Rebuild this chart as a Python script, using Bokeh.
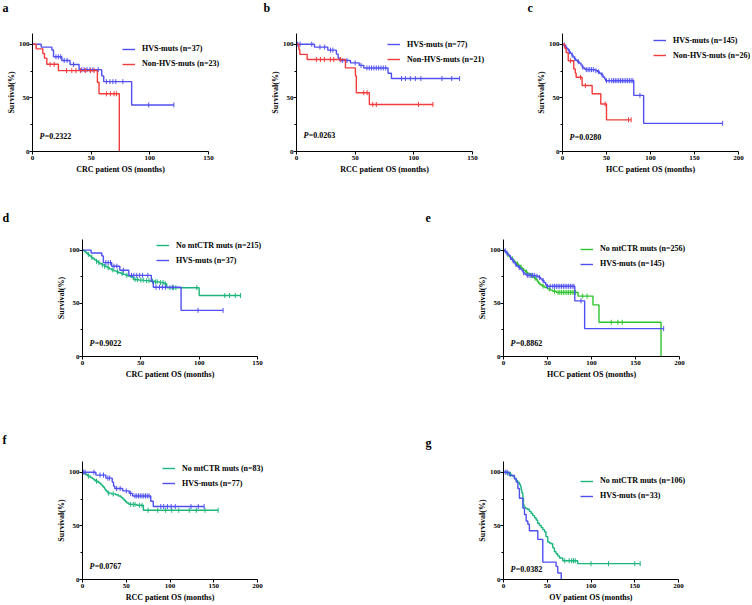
import numpy as np
from bokeh.plotting import figure
from bokeh.models import Range1d, FixedTicker, Legend, LegendItem, Label, Title
from bokeh.core.properties import value
from bokeh.layouts import row, column
from bokeh.embed import file_html
from bokeh.resources import INLINE

FONT = "Liberation Serif"
BLUE = "#5050F2"
RED = "#F23C3C"
GREEN = "#1CB57B"
GREEN_E = "#2EC42E"

# ---------------- data (months, survival %) ----------------
# CRC
crc_hvs_t = [0, 7.4, 16.5, 17.9, 25, 32, 39.7, 59, 60.7, 84.5, 120.5]
crc_hvs_s = [100, 97.3, 94.6, 88.3, 84.9, 81.1, 76.3, 70.5, 65.1, 43.4, 43.4]
crc_hvs_c = [20, 22, 24, 27, 29.5, 35, 42, 44, 46.5, 49, 51.5, 56, 63, 66, 68.5, 71, 77, 99, 120.5]

crc_non_t = [0, 3.1, 8.8, 10.2, 12.2, 22.1, 55.3, 56.7, 74]
crc_non_s = [100, 95.7, 91.3, 87, 81.3, 75.4, 64.6, 53.8, 0]
crc_non_c = [15, 18.5, 29, 33.5, 37, 41, 45, 49.5, 52.5, 63, 66.5, 69.5, 71.5]

crc_no_t = [0, 1.5, 3, 4.5, 6, 7.5, 9, 10.5, 12, 13.5, 15, 17, 19, 21, 23, 25, 27, 29, 31, 33,
            35, 37, 39, 41, 43.6, 48, 53, 58, 62, 66, 70, 72.2, 100, 135.5]
crc_no_s = [100, 98.7, 97.3, 96, 94.6, 93.2, 91.9, 90.6, 89.5, 88.3, 87.2, 86, 84.8, 83.6, 82.4,
            81.4, 80.5, 79.6, 78.8, 78, 77.2, 76.4, 75.6, 75, 72.4, 71.8, 71.3, 70.8, 70.2, 69.5,
            68.5, 64.7, 57.3, 57.3]
crc_no_c = [5, 8, 12, 14, 17, 19, 22, 26, 30, 34, 38, 45, 47, 50, 52, 55, 57, 60, 62.5, 64, 67,
            69, 71, 75, 78, 80, 98, 122, 126, 131, 135.5]

# RCC
rcc_hvs_t = [0, 15.3, 26.7, 34, 35.5, 36.9, 46, 53.4, 57.3, 78, 80.9, 139]
rcc_hvs_s = [100, 97.3, 94.5, 90.8, 87, 84.8, 82.6, 80.3, 77.9, 73, 68, 68]
rcc_hvs_c = [1, 3, 13, 20, 24, 29, 31, 39, 43, 50, 55, 60, 62, 64, 66, 68, 70, 72, 74, 76,
             89.5, 92.8, 97, 101.3, 106, 124, 132.3, 139]

rcc_non_t = [0, 2, 2.8, 9.1, 41.7, 50.2, 51, 62.1, 116.3]
rcc_non_s = [100, 95.2, 90.5, 85.7, 78, 70.5, 54.8, 43.8, 43.8]
rcc_non_c = [17, 20.4, 23.8, 28.9, 31.8, 37.4, 57.3, 60.2, 65, 68, 104, 116.3]

rcc_no_t = [0, 2, 4, 6, 9, 11, 13, 15, 18, 20, 21.5, 23, 24.5, 25.5, 26.5, 27.8, 29, 33, 38, 41,
            44, 46, 47.5, 49, 50.6, 53, 62, 69.6, 155]
rcc_no_s = [100, 98.8, 97.6, 96.4, 95.2, 94, 92.8, 91.6, 90.4, 89.2, 88, 86.7, 85.5, 84.2, 83,
            81.7, 80.5, 79.8, 79, 77.8, 76.5, 75.2, 73.9, 72.6, 71.3, 70, 69.2, 64.5, 64.5]
rcc_no_c = [7, 16, 30, 35, 55, 58, 60, 65, 68, 75, 86, 95, 102, 110, 122, 130, 140, 155]

# HCC
hcc_hvs_t = [0, 1, 2.5, 3.5, 5, 6.5, 7.5, 9, 10.5, 12, 13.5, 15, 17, 19, 21, 22.5, 24.5, 26, 37,
             40, 42, 44, 46, 48, 49, 81, 92.2, 182]
hcc_hvs_s = [100, 99.3, 98.6, 97.2, 95.8, 94.4, 93, 91.5, 89.8, 88.2, 86.6, 85, 83.7, 82.4, 80.5,
             78.6, 77.2, 76.3, 75.4, 74.4, 73, 71.5, 69.5, 67.5, 66, 52.3, 26.2, 26.2]
hcc_hvs_c = [2, 4, 8, 11, 14, 18, 23, 27, 29, 31, 33, 35, 38, 41, 45, 50, 53, 56, 58, 60, 62, 64,
             66, 68, 70, 72, 74, 76, 78, 80, 88, 182]

hcc_non_t = [0, 2.6, 4.2, 6.5, 12.8, 14.5, 15.5, 22.3, 33.7, 43.5, 50, 78]
hcc_non_s = [100, 96.2, 92.3, 84.6, 76.9, 73.1, 69.2, 61.5, 53.8, 44.3, 29.5, 29.5]
hcc_non_c = [9, 20.5, 26, 48.5, 75, 78]

hcc_no_t = [0, 1.5, 3, 4.5, 6, 7.5, 9, 10.5, 12, 13.5, 15, 17, 19, 21, 23, 25, 27, 29, 31, 33,
            35, 37, 38.5, 40, 41.5, 44, 47, 50, 53, 56, 60, 84.7, 101.7, 108.5, 179]
hcc_no_s = [100, 98.6, 97.2, 95.8, 94.5, 93.2, 91.9, 90.7, 89.4, 88.2, 87, 85.5, 84, 82.5, 81,
            79.6, 78.3, 77.2, 76.2, 75, 73.6, 72.2, 70.5, 68.8, 67.4, 66.2, 64.8, 63.6, 62.4,
            61.3, 60.3, 56.8, 48.5, 32.2, 0]
hcc_no_c = [5, 10, 16, 20, 26, 32, 36, 45, 52, 58, 62, 64, 66, 68, 70, 72, 74, 76, 78, 80, 82,
            90, 95, 122.5, 130, 135]

# OV
ov_no_t = [0, 4, 6.8, 9, 10.7, 12.5, 14.5, 16.3, 18.2, 19.5, 20.2, 21, 22.1, 22.8, 23.5, 25, 27,
           29.6, 31.5, 33.5, 35.5, 37.3, 39, 41, 43, 45, 46.8, 48.5, 50.6, 52.5, 54.4, 56.3,
           58.2, 60, 62, 64, 67.7, 84.8, 156.2]
ov_no_s = [100, 99, 98.1, 97.1, 96.1, 94.2, 92.3, 90.4, 88.5, 86.5, 83.6, 80.7, 75.9, 70, 67.5,
           66.5, 65.5, 63.5, 61.5, 59.5, 57.5, 55.5, 52.5, 50.5, 48.5, 46.5, 44.5, 40, 35, 34,
           33.3, 29.5, 26, 24, 22, 20, 17.5, 14.8, 14.8]
ov_no_c = [5, 8, 70, 75, 78, 80, 82, 100, 120, 150, 156.2]

ov_hvs_t = [0, 6.8, 12.5, 14.5, 16.4, 18.2, 22.1, 24, 25.9, 27.8, 29.6, 39.2, 44.9, 60.1, 62, 66]
ov_hvs_s = [100, 97, 93.9, 90.9, 84.8, 75.8, 66.7, 60.6, 54.5, 51.5, 45.5, 37.4, 16.2, 12.2, 6.1, 0]
ov_hvs_c = [2, 4]

p_values = ["=0.2322", "=0.0263", "=0.0280", "=0.9022", "=0.8862", "=0.0767", "=0.0382"]
panel_letters = ["a", "b", "c", "d", "e", "f", "g"]

# Times/Liberation Serif Bold advance widths (per 1000 em) to centre x-labels under the axis
GLYPH_W = {" ": 250, "(": 333, ")": 333, "C": 722, "H": 778, "O": 778, "R": 722, "S": 556,
           "V": 722, "a": 500, "e": 444, "h": 556, "i": 278, "m": 833, "n": 556, "o": 500,
           "p": 556, "s": 389, "t": 333}


def text_w(s, size):
    return sum(GLYPH_W.get(ch, 500) for ch in s) * size / 1000.0


def surv_at(t, s, c):
    t = np.asarray(t, float)
    s = np.asarray(s, float)
    idx = np.searchsorted(t, np.asarray(c, float), side="right") - 1
    return s[idx]


def letter_strip(H, letters, xs, ys):
    """A thin strip (pixel coordinates, y down) that carries the panel letters."""
    s = figure(width=752, height=H, x_range=Range1d(0, 752), y_range=Range1d(H, 0),
               output_backend="svg", toolbar_location=None, title=None,
               x_axis_type=None, y_axis_type=None,
               min_border_left=0, min_border_right=0, min_border_top=0, min_border_bottom=0)
    s.outline_line_color = None
    s.grid.visible = False
    s.text(x=xs, y=ys, text=letters, text_font=value(FONT), text_font_size=value("12px"),
           text_font_style="bold", text_color="black", text_baseline="middle",
           text_align="left")
    return s


def panel(xmax, xlabel, curves, pval, W, H, L, T, B, axis_px, leg_x, leg_r1, p_x, p_y):
    fh = H - T - B
    fw = W - L
    x_end = xmax * fw / axis_px
    p = figure(width=W, height=H, x_range=Range1d(0, x_end), y_range=Range1d(0, 110),
               output_backend="svg", toolbar_location=None, title=None,
               min_border_left=L, min_border_right=0, min_border_top=T, min_border_bottom=B)
    p.outline_line_color = None
    p.grid.visible = False
    p.background_fill_color = "white"
    p.border_fill_color = "white"

    p.xaxis.bounds = (0, xmax)
    p.xaxis.ticker = FixedTicker(ticks=list(range(0, xmax + 1, 50)))
    p.yaxis.ticker = FixedTicker(ticks=[0, 50, 100], minor_ticks=[25, 75])
    p.yaxis.axis_label = "Survival(%)"
    for ax in (p.xaxis[0], p.yaxis[0]):
        ax.axis_line_color = "black"
        ax.axis_line_width = 1
        ax.major_tick_line_color = "black"
        ax.minor_tick_line_color = "black"
        ax.major_tick_in = 0
        ax.major_tick_out = 3
        ax.minor_tick_in = 0
        ax.major_label_text_font = FONT
        ax.major_label_text_font_size = "7px"
        ax.major_label_text_font_style = "bold"
        ax.major_label_text_color = "black"
        ax.axis_label_text_font = FONT
        ax.axis_label_text_font_size = "8px"
        ax.axis_label_text_font_style = "bold"
        ax.axis_label_text_color = "black"
    p.xaxis.minor_tick_out = 0
    p.yaxis.minor_tick_out = 2
    p.xaxis.major_label_standoff = 1
    p.yaxis.major_label_standoff = 0
    p.yaxis.axis_label_standoff = 0

    # x-axis title, centred under the (shorter) axis line rather than the whole frame
    p.add_layout(Title(text=xlabel, align="left", offset=axis_px / 2 - text_w(xlabel, 8) / 2,
                       standoff=0, text_font=FONT, text_font_size="8px",
                       text_font_style="bold", text_color="black"), "below")

    items = []
    for t, s, c, color, label in curves:
        lr = p.step(t, s, mode="after", line_color=color, line_width=1.4)
        cr = p.scatter(c, surv_at(t, s, c), marker="dash", angle=np.pi / 2, size=5,
                       line_color=color, line_width=1)
        items.append(LegendItem(label=label, renderers=[lr, cr]))
    leg = Legend(items=items, location=(leg_x, fh - (leg_r1 + 20)),
                 glyph_width=13, glyph_height=10, label_height=10, label_standoff=7,
                 spacing=5, padding=0, margin=0, border_line_color=None,
                 background_fill_alpha=0,
                 label_text_font=FONT, label_text_font_size="8px",
                 label_text_font_style="bold", label_text_color="black")
    p.add_layout(leg)

    p.add_layout(Label(x=p_x, y=p_y, x_units="screen", y_units="screen", text="P",
                       text_font=FONT, text_font_size="8px", text_font_style="bold italic",
                       text_baseline="middle", text_align="left", text_color="black"))
    p.add_layout(Label(x=p_x + 5.2, y=p_y, x_units="screen", y_units="screen", text=pval,
                       text_font=FONT, text_font_size="8px", text_font_style="bold",
                       text_baseline="middle", text_align="left", text_color="black"))
    return p


# strip 1: 0..14 | row 1: 14..211 | strip 2: 211..225 | row 2: 225..432 | strip 3: 432..452 | row 3: 452..603
s1 = letter_strip(14, panel_letters[0:3], [2, 263, 527], [7, 7, 7])
s2 = letter_strip(14, panel_letters[3:5], [2, 425], [6.7, 6.7])
s3 = letter_strip(20, panel_letters[5:7], [2, 425], [7, 10.7])

pa = panel(150, "CRC patient OS (months)",
           [(crc_hvs_t, crc_hvs_s, crc_hvs_c, BLUE, "HVS-muts (n=37)"),
            (crc_non_t, crc_non_s, crc_non_c, RED, "Non-HVS-muts (n=23)")],
           p_values[0], 250, 197, 32, 19, 60, 176, 90, 15.5, 7, 15)
pb = panel(150, "RCC patient OS (months)",
           [(rcc_hvs_t, rcc_hvs_s, rcc_hvs_c, BLUE, "HVS-muts (n=77)"),
            (rcc_non_t, rcc_non_s, rcc_non_c, RED, "Non-HVS-muts (n=21)")],
           p_values[1], 255, 197, 46, 19, 60, 176, 91, 11, 7, 16.5)
pc = panel(200, "HCC patient OS (months)",
           [(hcc_hvs_t, hcc_hvs_s, hcc_hvs_c, BLUE, "HVS-muts (n=145)"),
            (hcc_non_t, hcc_non_s, hcc_non_c, RED, "Non-HVS-muts (n=26)")],
           p_values[2], 245, 197, 57, 19, 60, 176, 91, 7, 7, 14)
pd_ = panel(150, "CRC patient OS (months)",
            [(crc_no_t, crc_no_s, crc_no_c, GREEN, "No mtCTR muts (n=215)"),
             (crc_hvs_t, crc_hvs_s, crc_hvs_c, BLUE, "HVS-muts (n=37)")],
            p_values[3], 376, 207, 82, 14, 76, 175, 74, 6, 7, 13.4)
pe = panel(200, "HCC patient OS (months)",
           [(hcc_no_t, hcc_no_s, hcc_no_c, GREEN_E, "No mtCTR muts (n=256)"),
            (hcc_hvs_t, hcc_hvs_s, hcc_hvs_c, BLUE, "HVS-muts (n=145)")],
           p_values[4], 374, 207, 127, 14, 76, 176, 77, 9.6, 7, 13.4)
pf = panel(200, "RCC patient OS (months)",
           [(rcc_no_t, rcc_no_s, rcc_no_c, GREEN, "No mtCTR muts (n=83)"),
            (rcc_hvs_t, rcc_hvs_s, rcc_hvs_c, BLUE, "HVS-muts (n=77)")],
           p_values[5], 376, 151, 82, 9, 24, 175, 80, 7, 7, 13)
pg = panel(200, "OV patient OS (months)",
           [(ov_no_t, ov_no_s, ov_no_c, GREEN, "No mtCTR muts (n=106)"),
            (ov_hvs_t, ov_hvs_s, ov_hvs_c, BLUE, "HVS-muts (n=33)")],
           p_values[6], 374, 151, 127, 9, 24, 175, 77, 19.5, 7, 10.4)

p = column(s1, row(pa, pb, pc, spacing=0),
           s2, row(pd_, pe, spacing=0),
           s3, row(pf, pg, spacing=0), spacing=0)

open("out.html", "w").write(file_html(p, INLINE))
